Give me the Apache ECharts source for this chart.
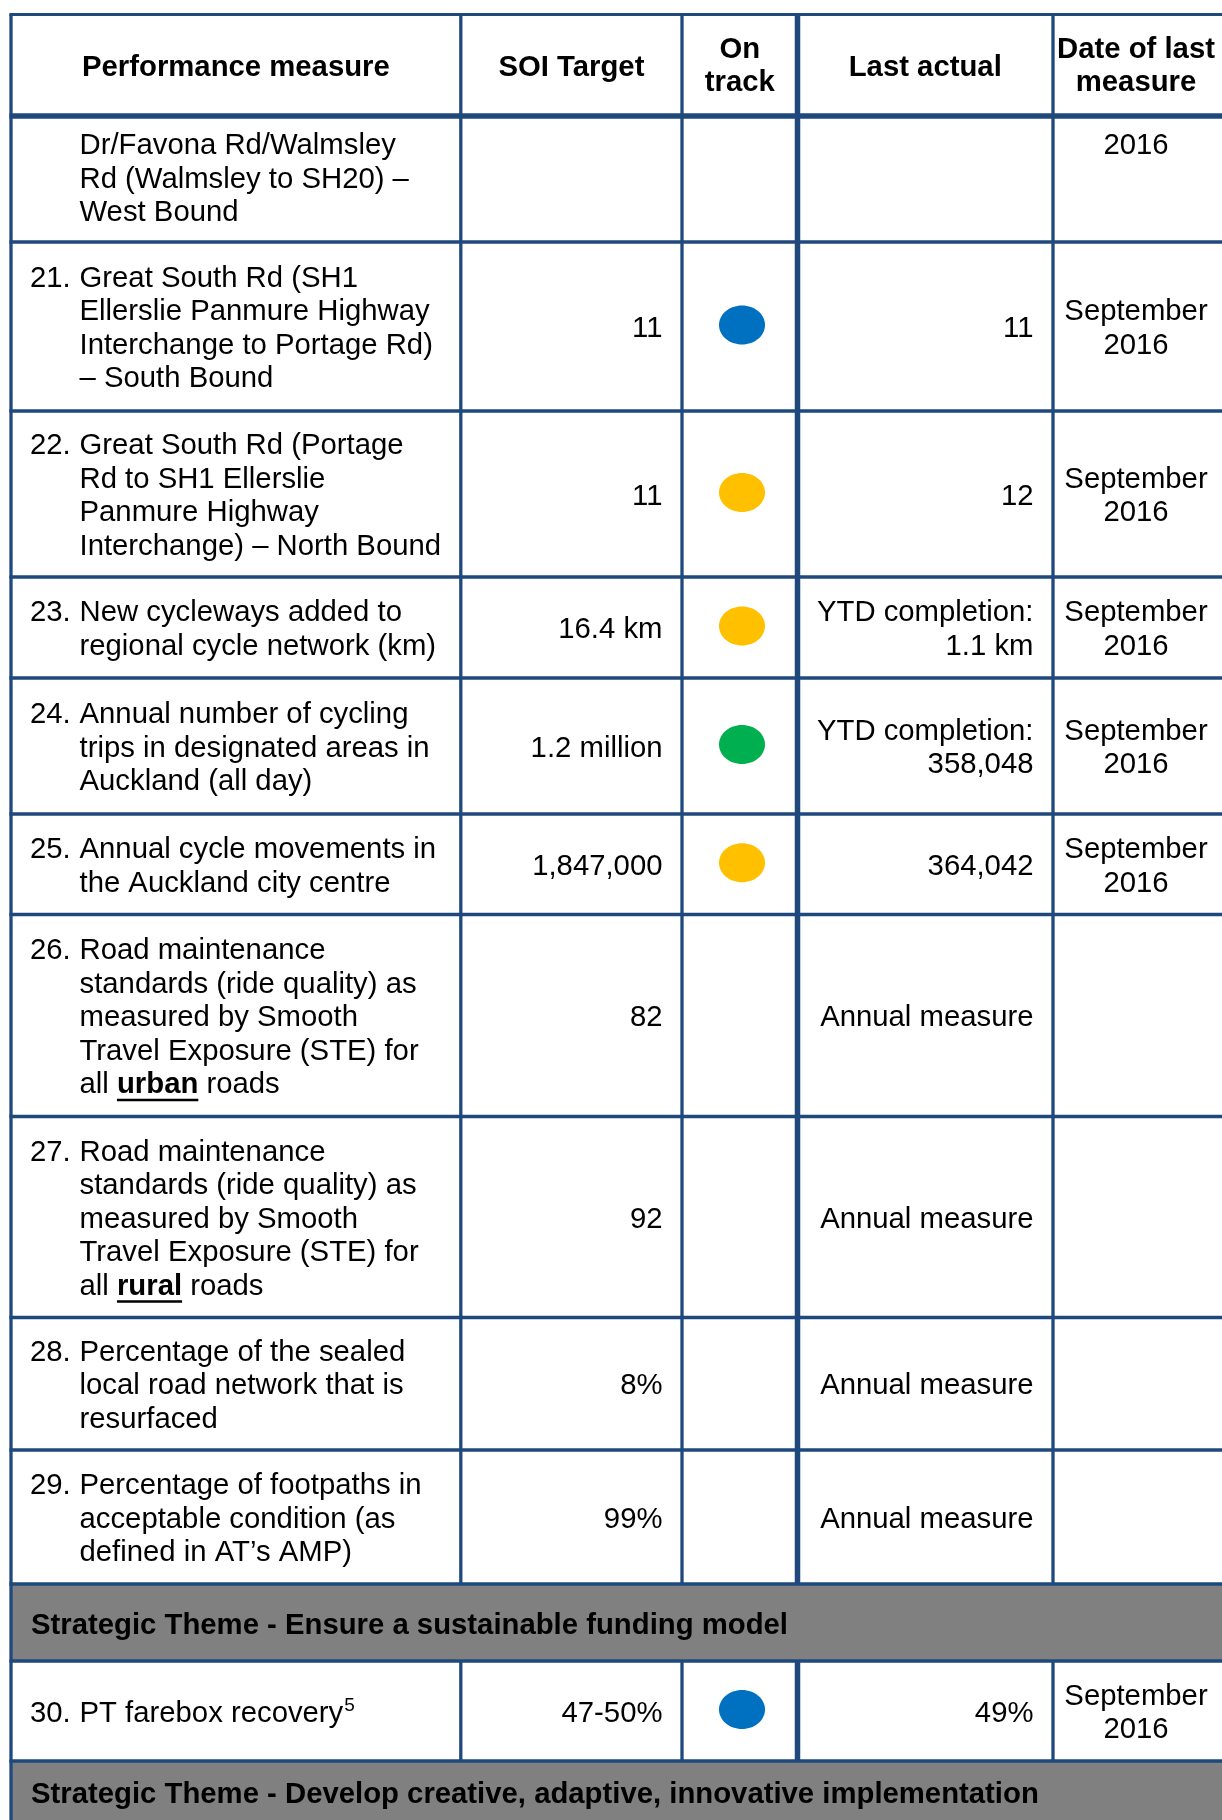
<!DOCTYPE html>
<html lang="en">
<head>
    <meta charset="UTF-8">
    <title>Performance measures</title>
    <script src="https://cdn.jsdelivr.net/npm/echarts@6/dist/echarts.min.js"></script>
    <style>
        body { margin: 0; padding: 0; background: #fff; }
        #chart { width: 1222px; height: 1820px; }
    </style>
</head>
<body>
    <div id="chart"></div>
    <script>
        // table content
        const headers = ['Performance measure', 'SOI Target', 'On\ntrack', 'Last actual', 'Date of last\nmeasure'];
        const measureNo = ['', '21.', '22.', '23.', '24.', '25.', '26.', '27.', '28.', '29.', '30.'];
        const measureText = [
            ['Dr/Favona Rd/Walmsley', 'Rd (Walmsley to SH20) –', 'West Bound'],
            ['Great South Rd (SH1', 'Ellerslie Panmure Highway', 'Interchange to Portage Rd)', '– South Bound'],
            ['Great South Rd (Portage', 'Rd to SH1 Ellerslie', 'Panmure Highway', 'Interchange) – North Bound'],
            ['New cycleways added to', 'regional cycle network (km)'],
            ['Annual number of cycling', 'trips in designated areas in', 'Auckland (all day)'],
            ['Annual cycle movements in', 'the Auckland city centre'],
            ['Road maintenance', 'standards (ride quality) as', 'measured by Smooth', 'Travel Exposure (STE) for', 'all **urban** roads'],
            ['Road maintenance', 'standards (ride quality) as', 'measured by Smooth', 'Travel Exposure (STE) for', 'all **rural** roads'],
            ['Percentage of the sealed', 'local road network that is', 'resurfaced'],
            ['Percentage of footpaths in', 'acceptable condition (as', 'defined in AT’s AMP)'],
            ['PT farebox recovery^5']
        ];
        const soiTarget = ['', '11', '11', '16.4 km', '1.2 million', '1,847,000', '82', '92', '8%', '99%', '47-50%'];
        const onTrack = ['', 'blue', 'amber', 'amber', 'green', 'amber', '', '', '', '', 'blue'];
        const lastActual = [
            [], ['11'], ['12'], ['YTD completion:', '1.1 km'], ['YTD completion:', '358,048'], ['364,042'],
            ['Annual measure'], ['Annual measure'], ['Annual measure'], ['Annual measure'], ['49%']
        ];
        const lastDate = [
            ['2016'], ['September', '2016'], ['September', '2016'], ['September', '2016'], ['September', '2016'],
            ['September', '2016'], [], [], [], [], ['September', '2016']
        ];
        const themeTitles = [
            'Strategic Theme - Ensure a sustainable funding model',
            'Strategic Theme - Develop creative, adaptive, innovative implementation'
        ];

        // row order: header, measures 0-9, theme 0, measure 10, theme 1
        const rows = [{ kind: 'head' }];
        for (let i = 0; i < 10; i++) rows.push({ kind: 'measure', i: i });
        rows.push({ kind: 'theme', i: 0 });
        rows.push({ kind: 'measure', i: 10 });
        rows.push({ kind: 'theme', i: 1 });

        // layout
        const FONT = '"Liberation Sans", Arial, sans-serif';
        const FS = 29.3, LH = 33.5;
        const BORDER = '#1F497D';
        const THEME_FILL = '#808080';
        const dotColors = { blue: '#0070C0', amber: '#FFC000', green: '#00B050' };
        const colEdges = [11, 460.8, 682, 797.5, 1053, 1240];
        const colLineW = [3.3, 3.3, 3.3, 5.5, 3.3];
        const tableTop = 14.5;
        const rowHeights = [101.5, 126, 169, 166, 101, 136, 100.5, 202, 201, 132.5, 134, 77, 100, 80];
        const themeDy = [42, 34];
        const rowTops = [];
        rowHeights.reduce((t, h) => { rowTops.push(t); return t + h; }, tableTop);

        const measureCtx = document.createElement('canvas').getContext('2d');
        function textWidth(s, bold, size) {
            measureCtx.font = (bold ? 'bold ' : '') + (size || FS) + 'px ' + FONT;
            return measureCtx.measureText(s).width;
        }
        function txt(s, x, y, align, bold, size) {
            return {
                type: 'text',
                style: {
                    text: s, x: x, y: y, align: align, verticalAlign: 'middle', fill: '#000',
                    font: (bold ? 'bold ' : '') + (size || FS) + 'px ' + FONT
                }
            };
        }
        // '**word**' = bold underlined, '^x' = superscript
        function richLine(line, x, y) {
            const els = [];
            let sup = '';
            const c = line.indexOf('^');
            if (c >= 0) { sup = line.slice(c + 1); line = line.slice(0, c); }
            let cx = x;
            line.split('**').forEach((seg, k) => {
                if (!seg) return;
                const bold = k % 2 === 1;
                els.push(txt(seg, cx, y, 'left', bold));
                const w = textWidth(seg, bold);
                if (bold) {
                    els.push({ type: 'line', shape: { x1: cx, y1: y + 15, x2: cx + w, y2: y + 15 },
                        style: { stroke: '#000', lineWidth: 2.5 } });
                }
                cx += w;
            });
            if (sup) els.push(txt(sup, cx + 1, y - 8, 'left', false, 19));
            return els;
        }
        function block(lines, x, yc, align, bold, fromTop) {
            const n = lines.length;
            return lines.map((l, k) => {
                const y = fromTop ? yc + k * LH : yc + (k - (n - 1) / 2) * LH;
                return txt(l, x, y, align, bold);
            });
        }

        function renderCells(params, api) {
            const idx = params.dataIndex;
            const r = rows[idx];
            const y0 = rowTops[idx], y1 = y0 + rowHeights[idx];
            const tl = api.coord([colEdges[0], y0]);
            const br = api.coord([colEdges[5], y1]);
            const ch = [{
                type: 'rect',
                shape: { x: tl[0], y: tl[1], width: br[0] - tl[0], height: br[1] - tl[1] },
                style: { fill: r.kind === 'theme' ? THEME_FILL : '#fff' }
            }];
            if (r.kind === 'head') {
                headers.forEach((h, c) => {
                    const lines = h.split('\n');
                    const yc = api.coord([0, (y0 + y1) / 2 + (lines.length > 1 ? 1 : 2.5)])[1];
                    const x = api.coord([c === 4 ? 1136 : (colEdges[c] + colEdges[c + 1]) / 2, 0])[0];
                    ch.push(...block(lines, x, yc, 'center', true));
                });
            } else if (r.kind === 'theme') {
                const p = api.coord([31, y0 + themeDy[r.i]]);
                ch.push(txt(themeTitles[r.i], p[0], p[1], 'left', true));
            } else {
                const m = r.i;
                const cont = m === 0;
                const yc = api.coord([0, cont ? y0 + 30 : (y0 + y1) / 2 + 2.5])[1];
                const numX = api.coord([30, 0])[0], textX = api.coord([79.5, 0])[0];
                const lines = measureText[m];
                const n = lines.length;
                if (measureNo[m]) {
                    const y = cont ? yc : yc - (n - 1) / 2 * LH;
                    ch.push(txt(measureNo[m], numX, y, 'left', false));
                }
                lines.forEach((l, k) => {
                    const y = cont ? yc + k * LH : yc + (k - (n - 1) / 2) * LH;
                    ch.push(...richLine(l, textX, y));
                });
                if (soiTarget[m]) ch.push(txt(soiTarget[m], api.coord([662.5, 0])[0], yc, 'right', false));
                if (onTrack[m]) {
                    const d = api.coord([742, (y0 + y1) / 2 - 1.5]);
                    ch.push({ type: 'ellipse', shape: { cx: d[0], cy: d[1], rx: 23, ry: 19.5 },
                        style: { fill: dotColors[onTrack[m]] } });
                }
                ch.push(...block(lastActual[m], api.coord([1033.5, 0])[0], yc, 'right', false, cont));
                ch.push(...block(lastDate[m], api.coord([1136, 0])[0], yc, 'center', false, cont));
            }
            return { type: 'group', children: ch };
        }

        function renderBorders(params, api) {
            const idx = params.dataIndex;
            const r = rows[idx];
            const y0 = rowTops[idx], y1 = y0 + rowHeights[idx];
            const ch = [];
            const hw = idx === 0 ? 2.8 : (idx === 1 ? 5.3 : 3.3);
            const a = api.coord([colEdges[0] - 1.6, y0]), b = api.coord([colEdges[5], y0]);
            ch.push({ type: 'line', shape: { x1: a[0], y1: a[1], x2: b[0], y2: b[1] },
                style: { stroke: BORDER, lineWidth: hw } });
            const last = colEdges.length - 1;
            for (let c = 0; c < last; c++) {
                if (r.kind === 'theme' && c > 0) continue;
                const p = api.coord([colEdges[c], y0]), q = api.coord([colEdges[c], y1]);
                ch.push({ type: 'line', shape: { x1: p[0], y1: p[1], x2: q[0], y2: q[1] },
                    style: { stroke: BORDER, lineWidth: colLineW[c] } });
            }
            return { type: 'group', children: ch };
        }

        const chart = echarts.init(document.getElementById('chart'));
        const rowData = rows.map((r, i) => [0, i]);
        chart.setOption({
            animation: false,
            backgroundColor: '#fff',
            grid: { left: 0, right: 0, top: 0, bottom: 0 },
            xAxis: { type: 'value', min: 0, max: 1222, show: false },
            yAxis: { type: 'value', min: 0, max: 1820, inverse: true, show: false },
            series: [
                { type: 'custom', name: 'cells', renderItem: renderCells, data: rowData, z: 1, silent: true },
                { type: 'custom', name: 'borders', renderItem: renderBorders, data: rowData, z: 2, silent: true }
            ]
        });
    </script>
</body>
</html>
